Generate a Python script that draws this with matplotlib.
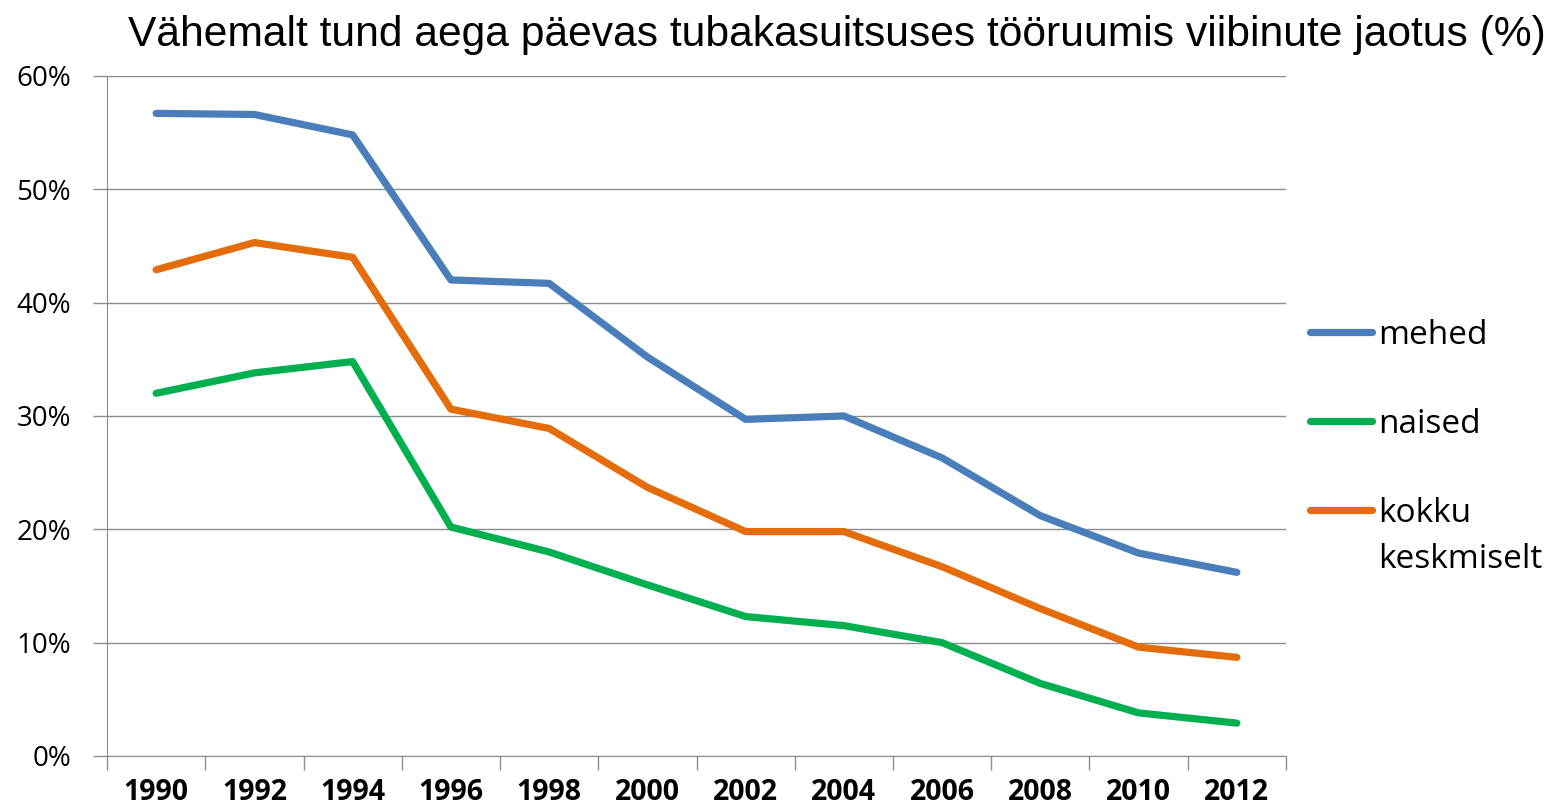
import numpy as np
import matplotlib.pyplot as plt
from matplotlib.ticker import FixedLocator, PercentFormatter

years = ["1990", "1992", "1994", "1996", "1998", "2000",
         "2002", "2004", "2006", "2008", "2010", "2012"]
mehed = [56.7, 56.6, 54.8, 42.0, 41.7, 35.2, 29.7, 30.0, 26.3, 21.2, 17.9, 16.2]
naised = [32.0, 33.8, 34.8, 20.2, 18.0, 15.1, 12.3, 11.5, 10.0, 6.4, 3.8, 2.9]
kokku = [42.9, 45.3, 44.0, 30.6, 28.9, 23.7, 19.8, 19.8, 16.7, 13.0, 9.6, 8.7]

title = "Vähemalt tund aega päevas tubakasuitsuses tööruumis viibinute jaotus (%)"
grid_col = "#8c8c8c"

fig = plt.figure(figsize=(15.58, 8.08), dpi=100)
ax = fig.add_axes([0.0687, 0.0644, 0.8254 - 0.0687, 0.906 - 0.0644])

x = np.arange(len(years))
l1, = ax.plot(x, mehed, color="#4a7ebb", lw=5.2, solid_capstyle="round", solid_joinstyle="round")
l2, = ax.plot(x, naised, color="#00b050", lw=5.2, solid_capstyle="round", solid_joinstyle="round")
l3, = ax.plot(x, kokku, color="#e46c0a", lw=5.2, solid_capstyle="round", solid_joinstyle="round")

ax.set_xlim(-0.5, len(years) - 0.5)
ax.set_ylim(0, 60)

# category axis: tick marks between categories, labels at centres
ax.xaxis.set_major_locator(FixedLocator(np.arange(-0.5, len(years))))
ax.set_xticklabels([])
ax.set_xticks(x, minor=True)
ax.set_xticklabels(years, minor=True, fontsize=20.5, fontweight="bold", family="Open Sans")
ax.tick_params(axis="x", which="major", length=10, width=1, color=grid_col, direction="out")
ax.tick_params(axis="x", which="minor", length=0, pad=16)

ax.set_yticks(np.arange(0, 61, 10))
ax.yaxis.set_major_formatter(PercentFormatter(decimals=0))
ax.tick_params(axis="y", length=10, width=1, color=grid_col, pad=16)
for t in ax.get_yticklabels():
    t.set_fontsize(20)
    t.set_family("Open Sans")

ax.grid(axis="y", color=grid_col, lw=1)
ax.set_axisbelow(True)
for s in ["top", "right"]:
    ax.spines[s].set_visible(False)
ax.spines["left"].set_color(grid_col)
ax.spines["bottom"].set_color(grid_col)

leg = fig.legend([l1, l2, l3], ["mehed", "naised", "kokku"],
                 loc="upper left", bbox_to_anchor=(1310 / 1558, 1 - 319 / 808),
                 frameon=False, borderpad=0, borderaxespad=0,
                 handlelength=1.86, handletextpad=0.18, labelspacing=1.68,
                 prop={"family": "Open Sans", "size": 24})
fig.text(1378 / 1558, 1 - 560 / 808, "keskmiselt", fontsize=24, family="Open Sans",
         va="center", ha="left")

fig.text(0.537, 1 - 35 / 808, title, fontsize=30.7, family="Liberation Sans",
         ha="center", va="center")

plt.savefig("out.png", dpi=100)
